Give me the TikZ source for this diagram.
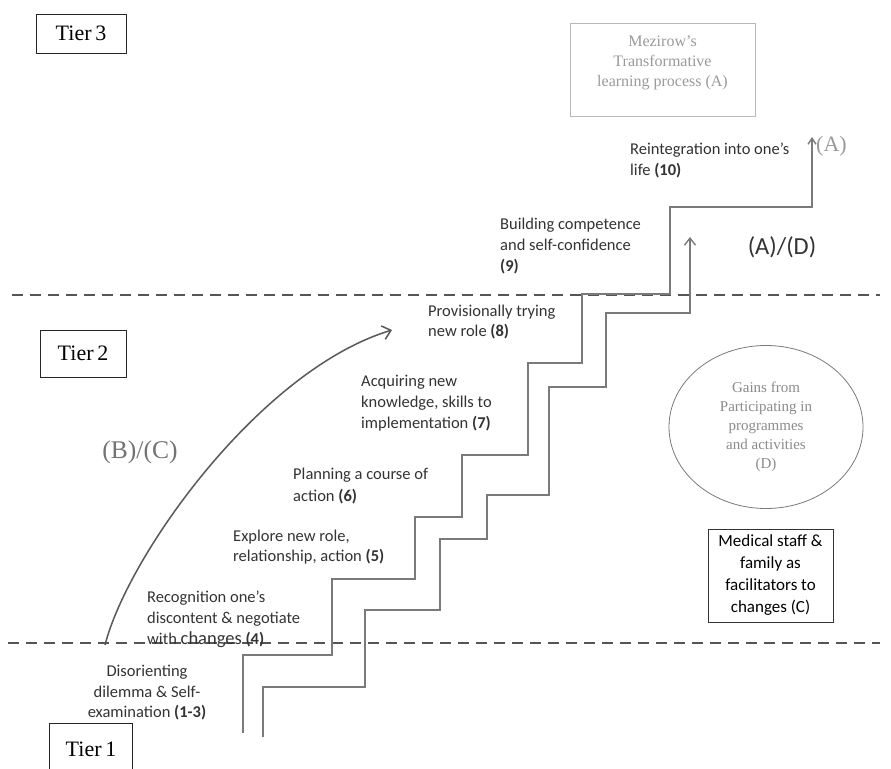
\documentclass[tikz,border=0pt]{standalone}
\usepackage{fontspec}
\setmainfont{Carlito}
\newfontfamily\tierfont{Liberation Serif}
\usetikzlibrary{arrows.meta,shapes.geometric}

\definecolor{stairgray}{HTML}{7A7A7A}
\definecolor{dashgray}{HTML}{555555}
\definecolor{labelgray}{HTML}{333333}
\definecolor{palegray}{HTML}{9A9A9A}

\tikzset{
  tierbox/.style={draw=black!85,line width=0.9pt,inner sep=0pt,font=\tierfont\fontsize{22}{24}\selectfont},
  tierline/.style={dashgray,line width=1.8pt,dash pattern=on 11pt off 7pt},
  stairline/.style={stairgray,line width=1.4pt,line join=miter},
  steptext/.style={anchor=north west,inner sep=0pt,align=left,text=labelgray},
  stepfont/.style={font=\fontsize{16.5}{#1}\selectfont},
}

\begin{document}
\begin{tikzpicture}[x=1pt,y=-1pt,line cap=butt]
  \clip (0,0) rectangle (891,768);
  \fill[white] (0,0) rectangle (891,768);

  % tiers
  \draw[tierline] (12,295) -- (880,295);
  \draw[tierline] (8,643) -- (880,643);
  \foreach \n/\x/\y/\w/\h in {3/81/33.5/90/39, 2/83/353.5/86/47, 1/91/749/83/52}
    \node[tierbox,minimum width=\w pt,minimum height=\h pt] (tier\n) at (\x,\y) {Tier\,\n};

  % boxes
  \node[draw=palegray!70,line width=0.9pt,minimum width=185pt,minimum height=93pt,inner sep=0pt,
        text=palegray,font=\tierfont\fontsize{16}{20}\selectfont] (mezirow) at (662.5,69.5)
        {\raisebox{7pt}[\height][\depth]{\begin{tabular}{@{}c@{}}Mezirow’s\\Transformative\\learning process (A)\end{tabular}}};
  \node[draw=stairgray,ellipse,line width=0.8pt,minimum width=194pt,minimum height=163pt,inner sep=0pt,
        align=center,text=palegray!90!black,font=\tierfont\fontsize{15}{19}\selectfont] (gains) at (766,427)
        {Gains from\\Participating in\\programmes\\and activities\\(D)};
  \node[draw=black!80,line width=0.9pt,minimum width=125pt,minimum height=93pt,inner sep=0pt,
        align=center,font=\fontsize{17}{22}\selectfont] (medical) at (770.5,575.5)
        {Medical staff \&\\family as\\facilitators to\\changes (C)};

  % stairs
  \coordinate (outstart) at (243,733);
  \coordinate (outtip) at (812,137);
  \coordinate (instart) at (263,737);
  \coordinate (intip) at (690,237);
  \draw[stairline,-{Straight Barb[length=6pt,width=8pt]}] (outstart) |- (332,655) |- (415,579) |- (462,517)
    |- (528,455) |- (582,363) |- (670,294) |- (812,207) -- (outtip);
  \draw[stairline,-{Straight Barb[length=7pt,width=11pt]}] (instart) |- (365,687) |- (440,610) |- (487,539)
    |- (549,495) |- (606,387) |- (690,313) -- (intip);

  % curve
  \coordinate (bcstart) at (105,645);
  \coordinate (bcend) at (392,330);
  \draw[black!65,line width=1.5pt,-{Straight Barb[length=8pt,width=14pt]}]
    (bcstart) .. controls (128,555) and (260,370) .. (bcend);

  % labels
  \node[text=palegray,font=\tierfont\fontsize{22}{24}\selectfont,anchor=west,inner sep=0pt] (alabel) at (816,146) {(A)};
  \node[text=labelgray,font=\fontsize{24.5}{26}\selectfont] (adlabel) at (782,247) {(A)/(D)};
  \node[text=black!55,font=\tierfont\fontsize{25.5}{27}\selectfont] (bclabel) at (140,452) {(B)/(C)};

  \node[steptext,stepfont=21] (step10) at (630,143) {Reintegration into one’s\\life \textbf{(10)}};
  \node[steptext,stepfont=21] (step9) at (500,218) {Building competence\\and self-confidence\\\textbf{(9)}};
  \node[steptext,stepfont=20] (step8) at (428,305) {Provisionally trying\\new role \textbf{(8)}};
  \node[steptext,stepfont=21] (step7) at (361,375) {Acquiring new\\knowledge, skills to\\implementation \textbf{(7)}};
  \node[steptext,stepfont=22] (step6) at (293,468) {Planning a course of\\action \textbf{(6)}};
  \node[steptext,stepfont=20] (step5) at (233,530) {Explore new role,\\relationship, action \textbf{(5)}};
  \node[steptext,stepfont=21] (step4) at (147,591) {Recognition one’s\\discontent \& negotiate\\with {\fontsize{18.5}{21}\selectfont changes} \textbf{(4)}};
  \node[steptext,stepfont=20.5,anchor=north,align=center] (step1) at (147,665) {Disorienting\\dilemma \& Self-\\examination \textbf{(1-3)}};
\end{tikzpicture}
\end{document}
